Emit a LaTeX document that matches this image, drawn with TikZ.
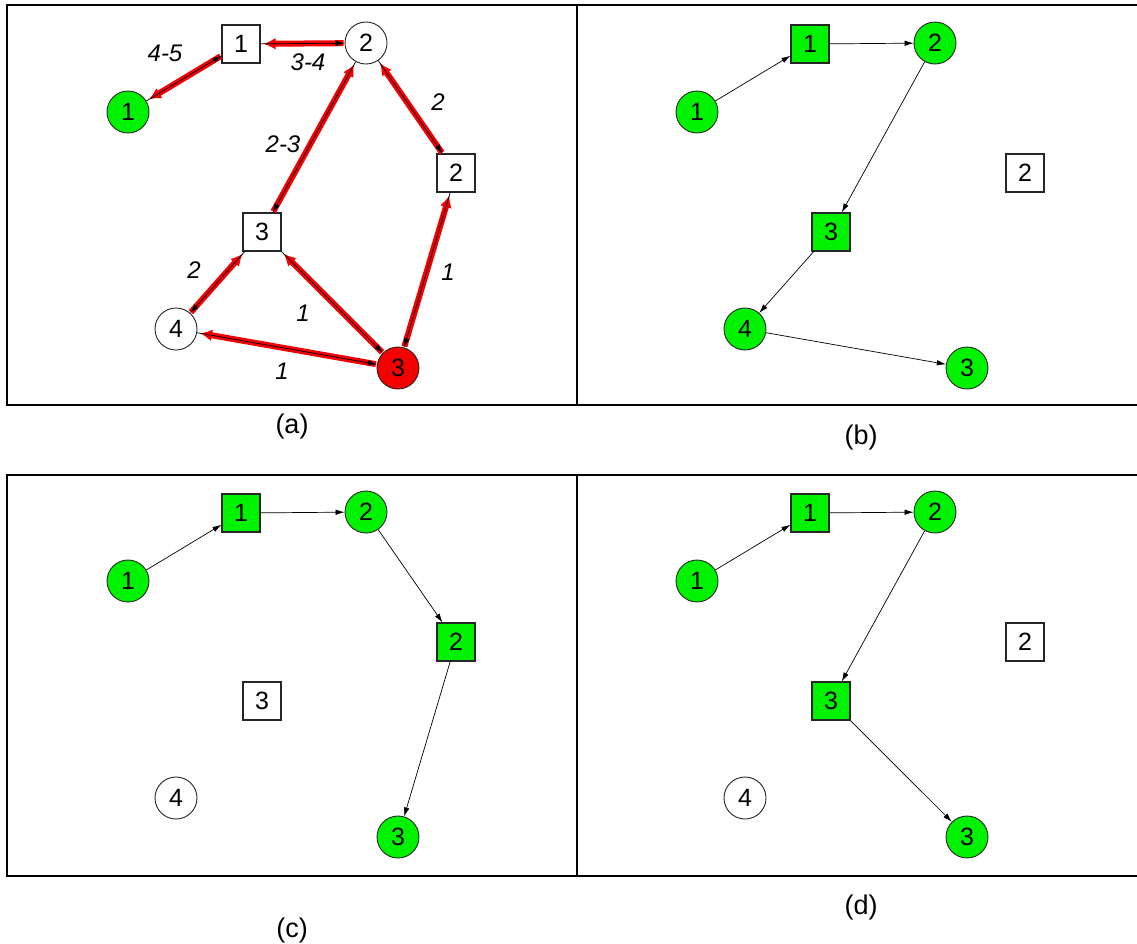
\documentclass[tikz,border=0pt]{standalone}
\usepackage{fontspec}
\setmainfont{Liberation Sans}
\usetikzlibrary{arrows.meta}
\definecolor{ngreen}{RGB}{0,242,0}
\definecolor{nred}{RGB}{245,0,0}
\newcommand{\nfnt}{\fontsize{25}{25}\selectfont}
\newcommand{\efnt}{\fontsize{24}{24}\selectfont\itshape}
\newcommand{\cfnt}{\fontsize{27}{27}\selectfont}
\begin{document}
\begin{tikzpicture}[x=1pt,y=-1pt,
  circ/.style={circle, draw=black!85, line width=0.9pt, minimum size=42pt, inner sep=0pt, font=\nfnt},
  sqr/.style={rectangle, draw=black!85, line width=1.1pt, minimum size=38pt, inner sep=0pt, font=\nfnt},
  gf/.style={fill=ngreen},
  rf/.style={fill=nred},
  wf/.style={fill=white},
  flow/.style={draw=black, line width=0.7pt, -{Latex[length=9pt,width=5.5pt]}},
  back/.style={draw=nred, line width=6pt, -{Latex[length=12pt,width=12pt]}, shorten >=3pt, shorten <=1pt},
  elab/.style={font=\efnt, inner sep=0pt},
  capt/.style={font=\cfnt, inner sep=0pt},
  frame/.style={draw=black, line width=2.6pt},
  vframe/.style={draw=black, line width=1.8pt}
]
\useasboundingbox (0,0) rectangle (1137,943);
\fill[white] (0,0) rectangle (1137,943);

% frames
\draw[frame] (6,5) -- (1137,5);
\draw[frame] (6,405) -- (1137,405);
\draw[vframe] (7,5) -- (7,405);
\draw[vframe] (577,5) -- (577,405);
\draw[frame] (6,475) -- (1137,475);
\draw[frame] (6,876) -- (1137,876);
\draw[vframe] (7,475) -- (7,876);
\draw[vframe] (577,475) -- (577,876);

% captions
\node[capt] (capa) at (292,427) {(a)};
\node[capt] (capb) at (861,438) {(b)};
\node[capt] (capc) at (292,930) {(c)};
\node[capt] (capd) at (861,907) {(d)};

% ---------------- panel (a)
\node[circ,gf] (a-g1) at (128,112) {1};
\node[sqr,wf]  (a-s1) at (241,44) {1};
\node[circ,wf] (a-c2) at (366,43) {2};
\node[sqr,wf]  (a-s2) at (456,173) {2};
\node[sqr,wf]  (a-s3) at (262,232) {3};
\node[circ,wf] (a-c4) at (176,329) {4};
\node[circ,rf] (a-c3) at (398,368) {3};

\draw[back] (a-s1) -- (a-g1);
\draw[back] (a-c2) -- (a-s1);
\draw[back] (a-s3) -- (a-c2);
\draw[back] (a-s2) -- (a-c2);
\draw[back] (a-c4) -- (a-s3);
\draw[back] (a-c3) -- (a-s3);
\draw[back] (a-c3) -- (a-c4);
\draw[back] (a-c3) -- (a-s2);

\draw[flow] (a-g1) -- (a-s1);
\draw[flow] (a-s1) -- (a-c2);
\draw[flow] (a-c2) -- (a-s3);
\draw[flow] (a-c2) -- (a-s2);
\draw[flow] (a-s3) -- (a-c4);
\draw[flow] (a-s3) -- (a-c3);
\draw[flow] (a-c4) -- (a-c3);
\draw[flow] (a-s2) -- (a-c3);

\node[elab] (l45) at (165,53) {4-5};
\node[elab] (l34) at (308,62) {3-4};
\node[elab] (l2a) at (438,102) {2};
\node[elab] (l23) at (283,144) {2-3};
\node[elab] (l2b) at (194,270) {2};
\node[elab] (l1a) at (448,272) {1};
\node[elab] (l1b) at (303,313) {1};
\node[elab] (l1c) at (282,371) {1};

% ---------------- panel (b)
\begin{scope}[shift={(569,0)}]
\node[circ,gf] (b-g1) at (128,112) {1};
\node[sqr,gf]  (b-s1) at (241,44) {1};
\node[circ,gf] (b-c2) at (366,43) {2};
\node[sqr,wf]  (b-s2) at (456,173) {2};
\node[sqr,gf]  (b-s3) at (262,232) {3};
\node[circ,gf] (b-c4) at (176,329) {4};
\node[circ,gf] (b-c3) at (398,368) {3};
\draw[flow] (b-g1) -- (b-s1);
\draw[flow] (b-s1) -- (b-c2);
\draw[flow] (b-c2) -- (b-s3);
\draw[flow] (b-s3) -- (b-c4);
\draw[flow] (b-c4) -- (b-c3);
\end{scope}

% ---------------- panel (c)
\begin{scope}[shift={(0,469)}]
\node[circ,gf] (c-g1) at (128,112) {1};
\node[sqr,gf]  (c-s1) at (241,44) {1};
\node[circ,gf] (c-c2) at (366,43) {2};
\node[sqr,gf]  (c-s2) at (456,173) {2};
\node[sqr,wf]  (c-s3) at (262,232) {3};
\node[circ,wf] (c-c4) at (176,329) {4};
\node[circ,gf] (c-c3) at (398,368) {3};
\draw[flow] (c-g1) -- (c-s1);
\draw[flow] (c-s1) -- (c-c2);
\draw[flow] (c-c2) -- (c-s2);
\draw[flow] (c-s2) -- (c-c3);
\end{scope}

% ---------------- panel (d)
\begin{scope}[shift={(569,469)}]
\node[circ,gf] (d-g1) at (128,112) {1};
\node[sqr,gf]  (d-s1) at (241,44) {1};
\node[circ,gf] (d-c2) at (366,43) {2};
\node[sqr,wf]  (d-s2) at (456,173) {2};
\node[sqr,gf]  (d-s3) at (262,232) {3};
\node[circ,wf] (d-c4) at (176,329) {4};
\node[circ,gf] (d-c3) at (398,368) {3};
\draw[flow] (d-g1) -- (d-s1);
\draw[flow] (d-s1) -- (d-c2);
\draw[flow] (d-c2) -- (d-s3);
\draw[flow] (d-s3) -- (d-c3);
\end{scope}
\end{tikzpicture}
\end{document}
